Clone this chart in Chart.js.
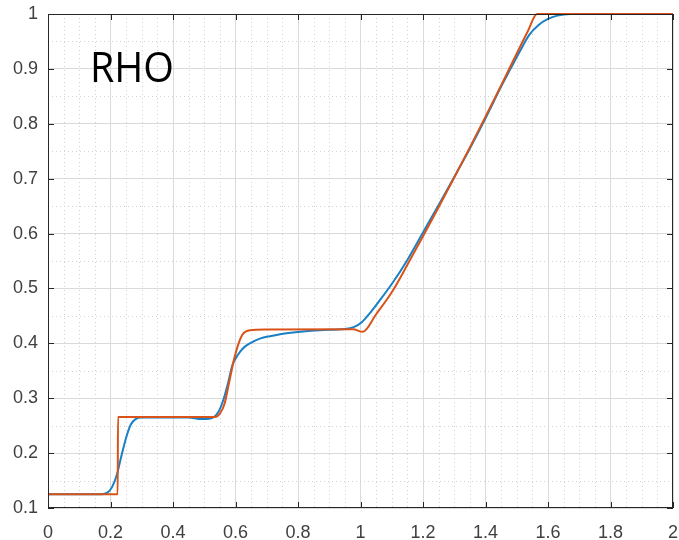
<!DOCTYPE html>
<html>
<head>
<meta charset="utf-8">
<script src="https://cdn.jsdelivr.net/npm/chart.js"></script>
<style>
    html, body { margin: 0; padding: 0; background: #fff; }
    #wrap { width: 679px; height: 540px; }
</style>
</head>
<body>
<div id="wrap"><canvas id="chart" width="679" height="540"></canvas></div>
<script>
// --- Datos ---
const xTickValues = [0, 0.2, 0.4, 0.6, 0.8, 1, 1.2, 1.4, 1.6, 1.8, 2];
const xTickLabels = ["0", "0.2", "0.4", "0.6", "0.8", "1", "1.2", "1.4", "1.6", "1.8", "2"];
const yTickValues = [0.1, 0.2, 0.3, 0.4, 0.5, 0.6, 0.7, 0.8, 0.9, 1];
const yTickLabels = ["0.1", "0.2", "0.3", "0.4", "0.5", "0.6", "0.7", "0.8", "0.9", "1"];

// solución numérica (azul)
const blueX = [0, 0.17, 0.19, 0.205, 0.22, 0.235, 0.25, 0.265, 0.28, 0.30, 0.45, 0.49, 0.52,
    0.545, 0.56, 0.575, 0.59, 0.60, 0.615, 0.63, 0.646, 0.68, 0.71, 0.77, 0.87, 0.95, 0.98,
    1.005, 1.03, 1.06, 1.10, 1.15, 1.20, 1.25, 1.30, 1.35, 1.40, 1.45, 1.48, 1.51, 1.54,
    1.57, 1.60, 1.63, 1.67, 1.72, 2.0];
const blueY = [0.125, 0.125, 0.128, 0.138, 0.16, 0.195, 0.228, 0.252, 0.262, 0.265, 0.265, 0.262, 0.263,
    0.275, 0.295, 0.325, 0.36, 0.372, 0.385, 0.394, 0.40, 0.409, 0.413, 0.419, 0.424, 0.426, 0.43,
    0.439, 0.455, 0.477, 0.508, 0.552, 0.602, 0.652, 0.703, 0.755, 0.81, 0.868, 0.90, 0.932, 0.962,
    0.980, 0.991, 0.997, 1.0, 1.0, 1.0];

// solución exacta (naranja)
const orangeX = [0, 0.223, 0.224, 0.534, 0.55, 0.565, 0.58, 0.595, 0.61, 0.625, 0.646, 0.70,
    0.976, 1.007, 1.05, 1.10, 1.15, 1.20, 1.25, 1.30, 1.35, 1.40, 1.45, 1.50, 1.535, 1.565, 2.0];
const orangeY = [0.125, 0.125, 0.266, 0.266, 0.272, 0.29, 0.33, 0.37, 0.40, 0.418, 0.424, 0.425,
    0.4255, 0.421, 0.453, 0.493, 0.543, 0.595, 0.648, 0.702, 0.757, 0.813, 0.870, 0.928, 0.968, 1.0, 1.0];

const toPoints = (xs, ys) => xs.map((x, i) => ({ x: x, y: ys[i] }));

// --- Rejilla menor, marco y texto ---
const isMajor = (v, step) => Math.abs(v / step - Math.round(v / step)) < 1e-6;

const matlabFrame = {
    id: "matlabFrame",
    beforeDatasetsDraw(chart) {
        const { ctx, chartArea: a, scales: { x, y } } = chart;
        ctx.save();
        ctx.strokeStyle = "#d2d2d2";
        ctx.lineWidth = 1;
        ctx.setLineDash([1, 3]);
        for (let i = 1; i < 40; i++) {
            const v = i * 0.05;
            if (isMajor(v, 0.2)) continue;
            const px = Math.round(x.getPixelForValue(v)) + 0.5;
            ctx.beginPath();
            ctx.moveTo(px, a.top);
            ctx.lineTo(px, a.bottom);
            ctx.stroke();
        }
        for (let i = 1; i < 18; i++) {
            const v = 0.1 + i * 0.05;
            if (isMajor(v, 0.1)) continue;
            const py = Math.round(y.getPixelForValue(v)) + 0.5;
            ctx.beginPath();
            ctx.moveTo(a.left, py);
            ctx.lineTo(a.right, py);
            ctx.stroke();
        }
        ctx.restore();
    },
    afterDraw(chart) {
        const { ctx, chartArea: a, scales: { x, y } } = chart;
        ctx.save();
        ctx.strokeStyle = "#262626";
        ctx.lineWidth = 1;
        ctx.setLineDash([]);
        ctx.strokeRect(a.left + 0.5, a.top + 0.5, a.right - a.left - 1, a.bottom - a.top - 1);
        const tl = 6;
        ctx.beginPath();
        xTickValues.forEach((v) => {
            const px = Math.round(x.getPixelForValue(v)) + 0.5;
            ctx.moveTo(px, a.bottom);
            ctx.lineTo(px, a.bottom - tl);
            ctx.moveTo(px, a.top);
            ctx.lineTo(px, a.top + tl);
        });
        yTickValues.forEach((v) => {
            const py = Math.round(y.getPixelForValue(v)) + 0.5;
            ctx.moveTo(a.left, py);
            ctx.lineTo(a.left + tl, py);
            ctx.moveTo(a.right, py);
            ctx.lineTo(a.right - tl, py);
        });
        ctx.stroke();

        // etiqueta RHO
        ctx.fillStyle = "#000";
        ctx.font = "42px 'Open Sans'";
        ctx.textBaseline = "alphabetic";
        const w = ctx.measureText("RHO").width;
        ctx.translate(90, 82);
        ctx.scale(84 / w, 1);
        ctx.fillText("RHO", 0, 0);
        ctx.restore();
    },
};

const tickFont = { family: "'Liberation Sans', Arial, sans-serif", size: 18 };

new Chart(document.getElementById("chart"), {
    type: "scatter",
    data: {
        datasets: [
            {
                label: "exacta",
                data: toPoints(orangeX, orangeY),
                showLine: true,
                borderColor: "#d95319",
                borderWidth: 2,
                pointRadius: 0,
                cubicInterpolationMode: "monotone",
                clip: 4,
                order: 0,
            },
            {
                label: "numerica",
                data: toPoints(blueX, blueY),
                showLine: true,
                borderColor: "#1a80c4",
                borderWidth: 2,
                pointRadius: 0,
                cubicInterpolationMode: "monotone",
                clip: 4,
                order: 1,
            },
        ],
    },
    options: {
        responsive: false,
        animation: false,
        events: [],
        layout: { padding: { top: 14, right: 6, left: 0, bottom: 0 } },
        plugins: { legend: { display: false }, tooltip: { enabled: false } },
        scales: {
            x: {
                type: "linear",
                min: 0,
                max: 2,
                afterBuildTicks: (s) => { s.ticks = xTickValues.map((v) => ({ value: v })); },
                afterFit: (s) => { s.height = 32; s.paddingLeft = 0; s.paddingRight = 0; },
                grid: { color: "#dadada", drawTicks: false },
                border: { display: false },
                ticks: {
                    padding: 14,
                    color: "#404040",
                    font: tickFont,
                    maxRotation: 0,
                    autoSkip: false,
                    callback: (v, i) => xTickLabels[i],
                },
            },
            y: {
                type: "linear",
                min: 0.1,
                max: 1,
                afterBuildTicks: (s) => { s.ticks = yTickValues.map((v) => ({ value: v })); },
                afterFit: (s) => { s.width = 48; s.paddingTop = 0; s.paddingBottom = 0; },
                grid: { color: "#dadada", drawTicks: false },
                border: { display: false },
                ticks: {
                    padding: 10,
                    color: "#404040",
                    font: tickFont,
                    autoSkip: false,
                    callback: (v, i) => yTickLabels[i],
                },
            },
        },
    },
    plugins: [matlabFrame],
});
</script>
</body>
</html>
